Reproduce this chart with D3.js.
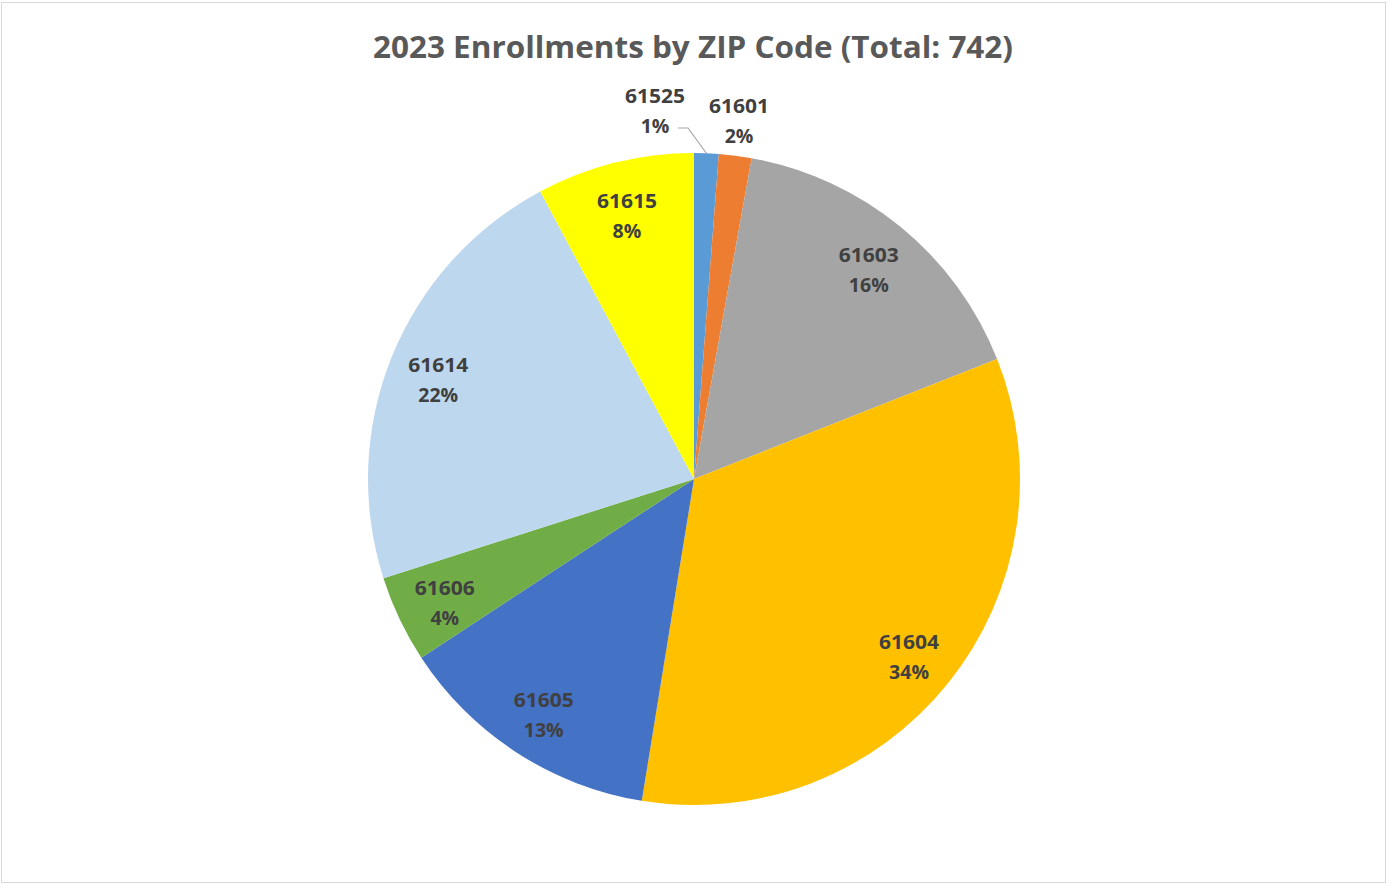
<!DOCTYPE html>
<html>
<head>
<meta charset="utf-8">
<script src="https://cdn.jsdelivr.net/npm/d3@7"></script>
<style>
  body { margin: 0; background: #fff; }
  svg { display: block; }
</style>
</head>
<body>
<div id="vis"></div>
<script>
// datos del grafico
const zips = ["61525", "61601", "61603", "61604", "61605", "61606", "61614", "61615"];
const counts = [9, 12, 120, 249, 98, 32, 164, 58];
const colors = ["#5b9bd5", "#ed7d31", "#a5a5a5", "#ffc000", "#4472c4", "#70ad47", "#bdd7ee", "#ffff00"];
const total = 742;

const width = 1387, height = 884;
const cx = 694, cy = 479, radius = 326;

const svg = d3.select("#vis").append("svg")
  .attr("width", width)
  .attr("height", height);

// marco
svg.append("rect")
  .attr("x", 1.5).attr("y", 2.5)
  .attr("width", width - 3).attr("height", height - 4)
  .attr("fill", "#fff")
  .attr("stroke", "#d9d9d9");

// titulo
svg.append("text")
  .attr("x", 693).attr("y", 58)
  .attr("text-anchor", "middle")
  .attr("font-family", "Open Sans, sans-serif")
  .attr("font-weight", 700)
  .attr("font-size", 30)
  .attr("fill", "#595959")
  .attr("textLength", 640)
  .attr("lengthAdjust", "spacingAndGlyphs")
  .text(`2023 Enrollments by ZIP Code (Total: ${total})`);

const data = zips.map((z, i) => ({ zip: z, value: counts[i], color: colors[i] }));

const pie = d3.pie().sort(null).value(d => d.value);
const arcs = pie(data);

const arc = d3.arc().innerRadius(0).outerRadius(radius);
const labelArc = d3.arc().innerRadius(276).outerRadius(276);

const g = svg.append("g").attr("transform", `translate(${cx},${cy})`);

g.selectAll("path")
  .data(arcs)
  .enter()
  .append("path")
  .attr("d", arc)
  .attr("fill", d => d.data.color);

// etiquetas: las dos rebanadas chicas van afuera
const pct = v => Math.round(v / d3.sum(counts) * 100) + "%";

const outside = {
  "61525": [655 - cx, 96 - cy],
  "61601": [739 - cx, 106 - cy]
};

const labels = g.selectAll("g.label")
  .data(arcs)
  .enter()
  .append("g")
  .attr("class", "label")
  .attr("transform", d => {
    const p = outside[d.data.zip] || (() => { const c = labelArc.centroid(d); return [c[0], c[1] - 10]; })();
    return `translate(${p[0]},${p[1]})`;
  });

labels.append("text")
  .attr("text-anchor", "middle")
  .attr("dy", "0.35em")
  .attr("font-family", "Open Sans, sans-serif")
  .attr("font-weight", 700)
  .attr("font-size", 19.5)
  .attr("fill", "#404040")
  .attr("textLength", 60)
  .attr("lengthAdjust", "spacingAndGlyphs")
  .text(d => d.data.zip);

labels.append("text")
  .attr("text-anchor", "middle")
  .attr("y", 30)
  .attr("dy", "0.35em")
  .attr("font-family", "Open Sans, sans-serif")
  .attr("font-weight", 700)
  .attr("font-size", 19.5)
  .attr("fill", "#404040")
  .text(d => pct(d.data.value));

// linea guia para 61525
const a0 = arcs[0];
const edge = d3.arc().innerRadius(radius).outerRadius(radius).centroid(a0);
g.append("polyline")
  .attr("points", [[678 - cx, 128 - cy], [688 - cx, 128 - cy], edge].map(p => p.join(",")).join(" "))
  .attr("fill", "none")
  .attr("stroke", "#a6a6a6")
  .attr("stroke-width", 1.2);
</script>
</body>
</html>
